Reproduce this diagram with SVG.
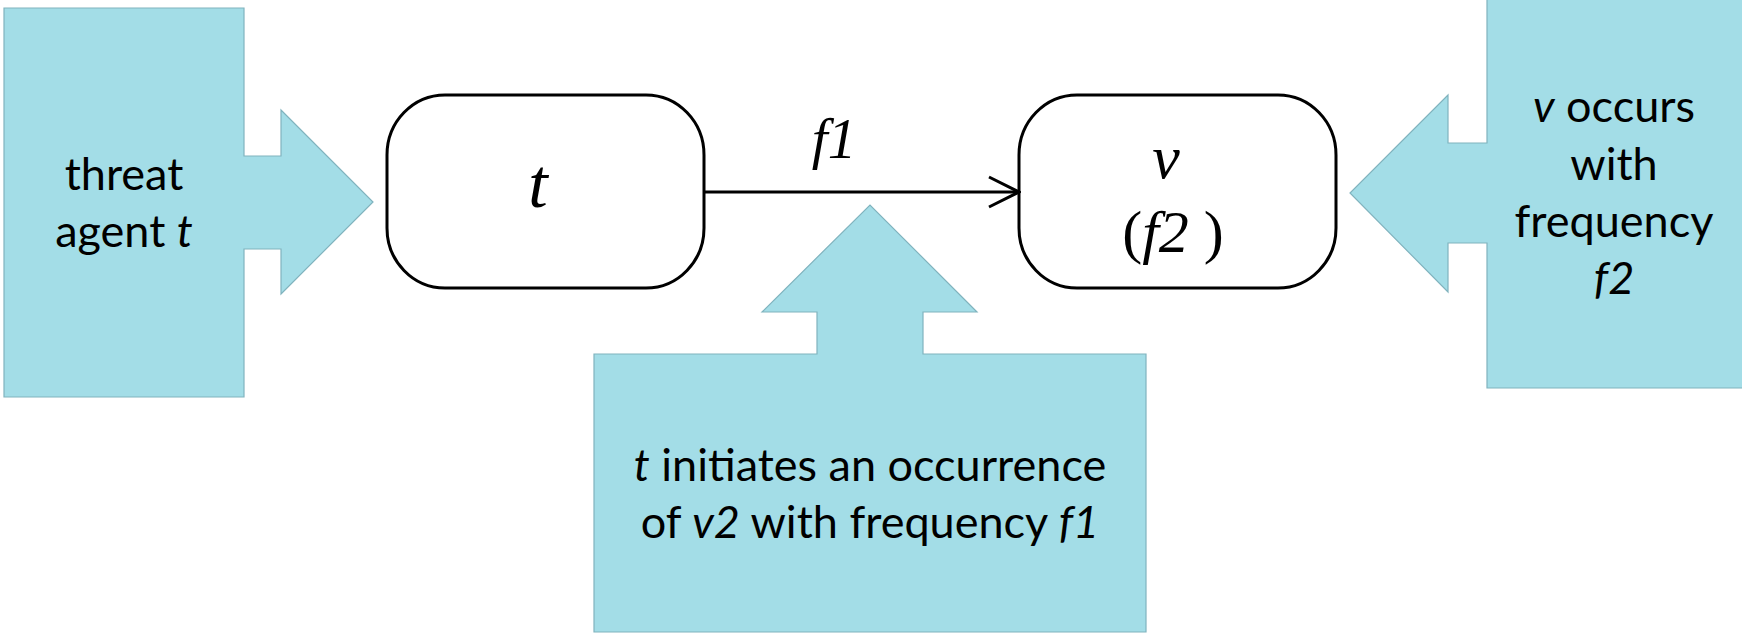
<svg xmlns="http://www.w3.org/2000/svg" width="1742" height="636" viewBox="0 0 1742 636">
  <style>
    .callout { fill: #A3DDE7; stroke: #80B3BE; stroke-width: 1.2; }
    .callout-text { font-family: Lato, "Open Sans", sans-serif; font-size: 45px; fill: #000; text-anchor: middle; }
    .state { fill: #fff; stroke: #000; stroke-width: 3; }
    .math { font-family: "Liberation Serif", "DejaVu Serif", serif; font-style: italic; fill: #000; text-anchor: middle; }
    .upright { font-style: normal; }
    .edge { stroke: #000; stroke-width: 3; fill: none; }
    .it { font-style: italic; }
  </style>
  <defs>
    <marker id="open-arrow" viewBox="0 0 34 34" refX="32" refY="17" markerWidth="34" markerHeight="34" markerUnits="userSpaceOnUse" orient="auto">
      <polyline points="2,2 32,17 2,32" fill="none" stroke="#000" stroke-width="3"/>
    </marker>
  </defs>

  <!-- callout: threat agent -->
  <g id="callout-threat-agent">
    <path class="callout" d="M4,8 H244 V156 H281 V110 L373,202 L281,294 V249 H244 V397 H4 Z"/>
    <text class="callout-text" x="124" y="190">threat</text>
    <text class="callout-text" x="124" y="247">agent <tspan class="it">t</tspan></text>
  </g>

  <!-- callout: frequency of v -->
  <g id="callout-v-frequency">
    <path class="callout" d="M1487,-2 H1744 V388 H1487 V243 H1448 V292 L1350,193 L1448,95 V143 H1487 Z"/>
    <text class="callout-text" x="1614" y="122"><tspan class="it">v</tspan> occurs</text>
    <text class="callout-text" x="1614" y="180">with</text>
    <text class="callout-text" x="1614" y="237">frequency</text>
    <text class="callout-text" x="1614" y="294"><tspan class="it">f2</tspan></text>
  </g>

  <!-- callout: initiation frequency -->
  <g id="callout-initiation">
    <path class="callout" d="M594,354 H817 V312 H762 L870,205 L977,312 H923 V354 H1146 V632 H594 Z"/>
    <text class="callout-text" x="870" y="481"><tspan class="it">t</tspan> initiates an occurrence</text>
    <text class="callout-text" x="870" y="538">of <tspan class="it">v2</tspan> with frequency <tspan class="it">f1</tspan></text>
  </g>

  <!-- state t -->
  <g id="node-t">
    <rect class="state" x="387" y="95" width="317" height="193" rx="58" ry="60"/>
    <text class="math" x="538" y="207" font-size="70">t</text>
  </g>

  <!-- state v -->
  <g id="node-v">
    <rect class="state" x="1019" y="95" width="317" height="193" rx="58" ry="60"/>
    <text class="math" x="1166" y="178" font-size="62">v</text>
    <text class="math" x="1173" y="252" font-size="60"><tspan class="upright">(</tspan>f2 <tspan class="upright">)</tspan></text>
  </g>

  <!-- connectors -->
  <g id="connectors">
    <line class="edge" x1="704" y1="192" x2="1019" y2="192" marker-end="url(#open-arrow)"/>
    <text class="math" x="834" y="158" font-size="57">f1</text>
  </g>
</svg>
